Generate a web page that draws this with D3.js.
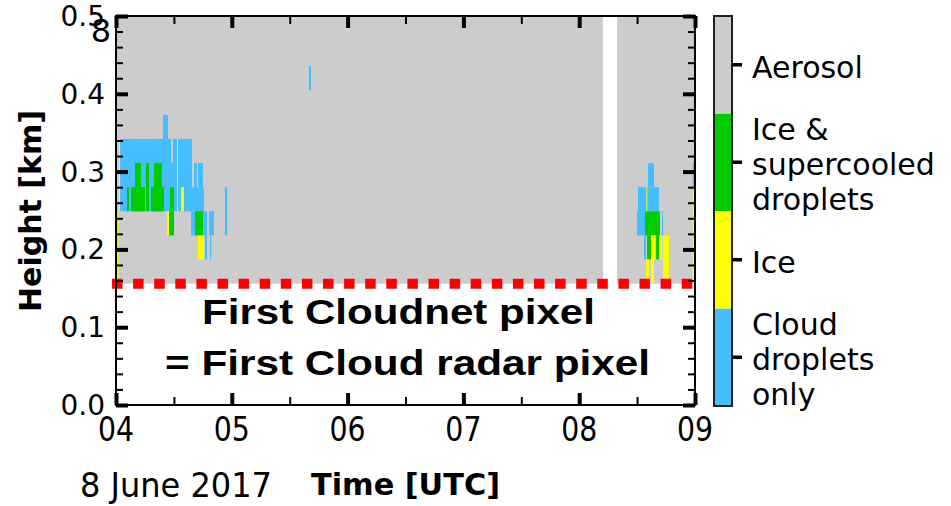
<!DOCTYPE html>
<html>
<head>
<meta charset="utf-8">
<script src="https://cdn.jsdelivr.net/npm/d3@7"></script>
<style>
body { margin: 0; background: #fff; }
svg text { font-family: "DejaVu Sans", sans-serif; fill: #000; }
</style>
</head>
<body>
<svg width="951" height="506"></svg>
<script>
// time in hours UTC, height in km
var hourTicks = [4, 5, 6, 7, 8, 9];
var hourLabels = ["04", "05", "06", "07", "08", "09"];
var heightTicks = [0, 0.1, 0.2, 0.3, 0.4, 0.5];

// colorbar classes, bottom to top
var classNames = [["Cloud", "droplets", "only"], ["Ice"], ["Ice &", "supercooled", "droplets"], ["Aerosol"]];
var classColors = ["#45bdff", "#ffff00", "#00cc00", "#cccccc"];

var firstGate = 0.156;   // first Cloudnet / radar gate [km]
var topHeight = 0.5;

// aerosol everywhere above first gate, gap with no data around 08:15
var aerosolSpans = [[4, 8.205], [8.326, 9]];

// cells: [t0, t1, h0, h1]
var dropletCells = [
    [4.035, 4.656, 0.249, 0.342],
    [4.406, 4.449, 0.342, 0.373],
    [4.656, 4.760, 0.249, 0.280],
    [4.674, 4.699, 0.280, 0.311],
    [4.708, 4.751, 0.280, 0.311],
    [4.648, 4.786, 0.218, 0.249],
    [4.803, 4.846, 0.218, 0.249],
    [4.941, 4.960, 0.218, 0.280],
    [4.769, 4.786, 0.187, 0.218],
    [4.812, 4.822, 0.187, 0.218],
    [5.667, 5.684, 0.405, 0.436],
    [8.594, 8.646, 0.280, 0.311],
    [8.508, 8.689, 0.249, 0.280],
    [8.499, 8.568, 0.218, 0.249],
    [8.715, 8.724, 0.218, 0.249],
    [8.560, 8.577, 0.187, 0.218],
    [8.980, 8.995, 0.280, 0.311]
];
var mixedCells = [
    [4.164, 4.216, 0.249, 0.311],
    [4.259, 4.285, 0.249, 0.311],
    [4.328, 4.397, 0.249, 0.311],
    [4.095, 4.112, 0.249, 0.280],
    [4.130, 4.250, 0.249, 0.280],
    [4.302, 4.415, 0.249, 0.280],
    [4.466, 4.501, 0.249, 0.280],
    [4.458, 4.501, 0.218, 0.249],
    [4.683, 4.751, 0.218, 0.249],
    [4.003, 4.012, 0.187, 0.249],
    [8.568, 8.698, 0.218, 0.249],
    [8.586, 8.620, 0.187, 0.218],
    [8.664, 8.689, 0.187, 0.218]
];
var iceCells = [
    [4.026, 4.035, 0.249, 0.342],
    [4.012, 4.022, 0.156, 0.249],
    [4.527, 4.535, 0.249, 0.342],
    [4.561, 4.587, 0.249, 0.280],
    [4.440, 4.458, 0.218, 0.249],
    [4.708, 4.760, 0.187, 0.218],
    [8.580, 8.588, 0.249, 0.280],
    [8.620, 8.655, 0.187, 0.218],
    [8.698, 8.715, 0.187, 0.218],
    [8.724, 8.775, 0.156, 0.218],
    [8.577, 8.603, 0.156, 0.187],
    [8.620, 8.646, 0.156, 0.187],
    [8.980, 8.995, 0.156, 0.280]
];
var aerosolPatches = [
    [4.475, 4.492, 0.311, 0.342],
    [4.699, 4.708, 0.280, 0.311]
];

var svg = d3.select("svg");

var x = d3.scaleLinear().domain([4, 9]).range([116, 695]);
var y = d3.scaleLinear().domain([0, topHeight]).range([405, 16]);

var plot = svg.append("g").attr("class", "cells");

plot.selectAll("rect.aer")
    .data(aerosolSpans)
    .enter().append("rect")
    .attr("class", "aer")
    .attr("x", function (d) { return x(d[0]); })
    .attr("width", function (d) { return x(d[1]) - x(d[0]); })
    .attr("y", y(topHeight))
    .attr("height", y(firstGate) - y(topHeight))
    .attr("fill", classColors[3]);

function drawCells(cells, color) {
    plot.append("g")
        .selectAll("rect")
        .data(cells)
        .enter().append("rect")
        .attr("x", function (d) { return x(d[0]); })
        .attr("width", function (d) { return x(d[1]) - x(d[0]); })
        .attr("y", function (d) { return y(d[3]); })
        .attr("height", function (d) { return y(d[2]) - y(d[3]); })
        .attr("fill", color);
}
drawCells(dropletCells, classColors[0]);
drawCells(mixedCells, classColors[2]);
drawCells(iceCells, classColors[1]);
drawCells(aerosolPatches, classColors[3]);

// first gate line
svg.append("line")
    .attr("x1", x(4) - 4)
    .attr("x2", x(9))
    .attr("y1", y(firstGate))
    .attr("y2", y(firstGate))
    .attr("stroke", "#ff0000")
    .attr("stroke-width", 10)
    .attr("stroke-dasharray", "10.5,10.6");

// frame
svg.append("rect")
    .attr("x", x(4))
    .attr("y", y(topHeight))
    .attr("width", x(9) - x(4))
    .attr("height", y(0) - y(topHeight))
    .attr("fill", "none")
    .attr("stroke", "#000")
    .attr("stroke-width", 2);

// inward ticks on all four sides
var minorH = d3.range(0, 26).map(function (i) { return i * 0.02; });
var minorT = d3.range(0, 11).map(function (i) { return 4 + i * 0.5; });

function tickAxis(axis, pos, size, width) {
    var g = svg.append("g").attr("transform", pos).call(axis.tickSize(-size).tickFormat(""));
    g.select(".domain").remove();
    g.selectAll(".tick line").attr("stroke", "#000").attr("stroke-width", width);
    return g;
}
tickAxis(d3.axisLeft(y).tickValues(minorH), "translate(" + x(4) + ",0)", 7, 2);
tickAxis(d3.axisLeft(y).tickValues(heightTicks), "translate(" + x(4) + ",0)", 12, 4);
tickAxis(d3.axisRight(y).tickValues(minorH), "translate(" + x(9) + ",0)", 7, 2);
tickAxis(d3.axisRight(y).tickValues(heightTicks), "translate(" + x(9) + ",0)", 12, 4);
tickAxis(d3.axisTop(x).tickValues(minorT), "translate(0," + y(topHeight) + ")", 8, 2);
tickAxis(d3.axisTop(x).tickValues(hourTicks), "translate(0," + y(topHeight) + ")", 12, 4);
tickAxis(d3.axisBottom(x).tickValues(minorT), "translate(0," + y(0) + ")", 8, 2);
tickAxis(d3.axisBottom(x).tickValues(hourTicks), "translate(0," + y(0) + ")", 12, 4);

// tick labels
svg.append("g").selectAll("text")
    .data(heightTicks)
    .enter().append("text")
    .attr("x", x(4) - 11)
    .attr("y", function (d) { return y(d); })
    .attr("dy", "0.36em")
    .attr("text-anchor", "end")
    .style("font-size", "28px")
    .text(function (d) { return d.toFixed(1); });

svg.append("g").selectAll("text")
    .data(hourTicks)
    .enter().append("text")
    .attr("transform", function (d) { return "translate(" + x(d) + ",441) scale(0.86,1)"; })
    .attr("text-anchor", "middle")
    .style("font-size", "33px")
    .text(function (d, i) { return hourLabels[i]; });

// stray label digit near the top left corner (as in the original)
svg.append("text")
    .attr("x", 101)
    .attr("y", 42)
    .attr("text-anchor", "middle")
    .style("font-size", "32px")
    .text("8");

// axis titles
svg.append("text")
    .attr("transform", "translate(41,211) rotate(-90)")
    .attr("text-anchor", "middle")
    .style("font-size", "30px")
    .style("font-weight", "bold")
    .text("Height [km]");

svg.append("text")
    .attr("x", 311)
    .attr("y", 495)
    .attr("textLength", 189)
    .attr("lengthAdjust", "spacingAndGlyphs")
    .style("font-size", "30px")
    .style("font-weight", "bold")
    .text("Time [UTC]");

svg.append("text")
    .attr("x", 80)
    .attr("y", 497)
    .attr("textLength", 192)
    .attr("lengthAdjust", "spacingAndGlyphs")
    .style("font-size", "33px")
    .text("8 June 2017");

// annotation
var note = ["First Cloudnet pixel", "= First Cloud radar pixel"];
var noteBox = [[202, 595, 324], [165, 650, 375]];
svg.append("g").selectAll("text")
    .data(note)
    .enter().append("text")
    .attr("x", function (d, i) { return noteBox[i][0]; })
    .attr("y", function (d, i) { return noteBox[i][2]; })
    .attr("textLength", function (d, i) { return noteBox[i][1] - noteBox[i][0]; })
    .attr("lengthAdjust", "spacingAndGlyphs")
    .style("font-family", "'Liberation Sans', Arial, sans-serif")
    .style("font-weight", "bold")
    .style("font-size", "35px")
    .text(function (d) { return d; });

// colorbar (band scale, reversed range: cb(i) is top of band i)
var cb = d3.scaleBand().domain([0, 1, 2, 3]).range([406, 16]);
var cbX = 714, cbW = 18;
var cbar = svg.append("g");
cbar.selectAll("rect")
    .data(classColors)
    .enter().append("rect")
    .attr("x", cbX)
    .attr("width", cbW)
    .attr("y", function (d, i) { return cb(i); })
    .attr("height", cb.bandwidth())
    .attr("fill", function (d) { return d; });
cbar.append("rect")
    .attr("x", cbX)
    .attr("y", 16)
    .attr("width", cbW)
    .attr("height", 390)
    .attr("fill", "none")
    .attr("stroke", "#222")
    .attr("stroke-width", 2);

var cbAxis = svg.append("g")
    .attr("transform", "translate(" + (cbX + cbW) + ",0)")
    .call(d3.axisRight(cb).tickSize(10).tickFormat(""));
cbAxis.select(".domain").remove();
cbAxis.selectAll(".tick line").attr("stroke", "#000").attr("stroke-width", 3.5);

var lineH = 35;
svg.append("g").selectAll("text")
    .data(classNames)
    .enter().append("text")
    .attr("x", 752)
    .attr("y", function (d, i) {
        var mid = cb(i) + cb.bandwidth() / 2;
        return mid + 13 - (d.length - 1) / 2 * lineH;
    })
    .style("font-size", "30px")
    .selectAll("tspan")
    .data(function (d) { return d; })
    .enter().append("tspan")
    .attr("x", 752)
    .attr("dy", function (d, i) { return i === 0 ? 0 : lineH; })
    .text(function (d) { return d; });
</script>
</body>
</html>
